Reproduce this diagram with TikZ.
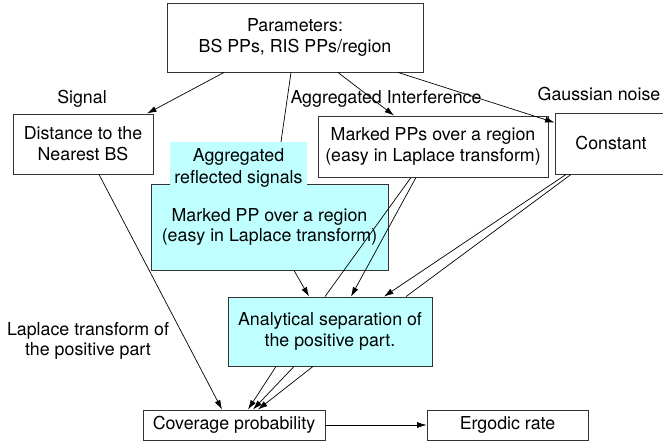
\documentclass[tikz,border=0pt]{standalone}
\usepackage{fontspec}
\setmainfont{TeX Gyre Heros}
\usetikzlibrary{arrows.meta}
\definecolor{cyanfill}{RGB}{191,255,255}
\newcommand\diagfont{\fontsize{17.8}{20.8}\selectfont}
\begin{document}
\begin{tikzpicture}[x=1pt,y=-1pt,
  box/.style={draw=black!80, line width=0.9pt, inner sep=2pt, align=center, font=\diagfont},
  cbox/.style={box, fill=cyanfill},
  lbl/.style={inner sep=1pt, align=center, font=\diagfont},
  arr/.style={-{Latex[length=9.5pt,width=6pt]}, line width=0.7pt},
  ln/.style={line width=0.7pt}]
\fill[white] (0,0) rectangle (663,447);
\useasboundingbox (0,0) rectangle (663,447);

% boxes
\node[box, minimum width=256pt, minimum height=69pt] (param) at (295,37.5) {Parameters:\\BS PPs, RIS PPs/region};
\node[box, minimum width=140pt, minimum height=60pt] (dist) at (83,144) {Distance to the\\Nearest BS};
\node[box, minimum width=230pt, minimum height=61pt] (mpps) at (433,146.5) {Marked PPs over a region\\(easy in Laplace transform)};
\node[box, minimum width=112pt, minimum height=61pt] (const) at (611,143.5) {Constant};
\node[cbox, minimum width=237pt, minimum height=86pt] (big) at (269.5,227) {Marked PP over a region\\(easy in Laplace transform)};
\node[fill=cyanfill, inner sep=0pt, minimum width=137pt, minimum height=43pt, font=\diagfont] (refl) at (238.5,163.5)
  {\raisebox{-5pt}[\height][\depth]{\begin{tabular}{@{}c@{}}Aggregated\\[1pt]reflected signals\end{tabular}}};
\node[cbox, minimum width=204pt, minimum height=69pt] (anal) at (330,331.5) {Analytical separation of\\the positive part.};
\node[box, minimum width=182pt, minimum height=30pt] (cov) at (234,425) {Coverage probability};
\node[box, minimum width=161pt, minimum height=30pt] (erg) at (507.5,425) {Ergodic rate};

% labels
\node[lbl] (lsig) at (82,99) {Signal};
\node[lbl] (lint) at (386,99) {Aggregated Interference};
\node[lbl] (lgau) at (599,94) {Gaussian noise};
\node[lbl] (llap) at (88,341) {Laplace transform of\\the positive part};

% connectors
\draw[arr] ([xshift=-71pt]param.south) -- ([xshift=64pt]dist.north);
\draw[ln]  ([xshift=-4pt]param.south) -- ([xshift=42.5pt]refl.north);
\draw[arr] ([xshift=43pt]param.south) -- ([xshift=-39pt]mpps.north);
\draw[arr] ([xshift=103pt]param.south) -- ([yshift=-10pt]const.north west);
\draw[arr] ([xshift=16pt]dist.south) -- ([xshift=-12pt]cov.north);
\draw[arr] ([xshift=24.5pt]big.south) -- ([xshift=-21pt]anal.north);
\draw[ln]  ([xshift=-22pt]mpps.south) -- ([xshift=-5pt]anal.north);
\draw[arr] ([xshift=-17pt]mpps.south) -- ([xshift=21pt]anal.north);
\draw[arr] ([xshift=-45pt]const.south) -- ([xshift=54pt]anal.north);
\draw[ln]  ([xshift=-40pt]const.south) -- ([xshift=76pt]anal.north);
\draw[arr] ([xshift=-54pt]anal.south) -- ([xshift=14pt]cov.north);
\draw[arr] ([xshift=-36pt]anal.south) -- ([xshift=19pt]cov.north);
\draw[arr] ([xshift=-17pt]anal.south) -- ([xshift=24pt]cov.north);
\draw[arr] (cov.east) -- (erg.west);
\end{tikzpicture}
\end{document}
